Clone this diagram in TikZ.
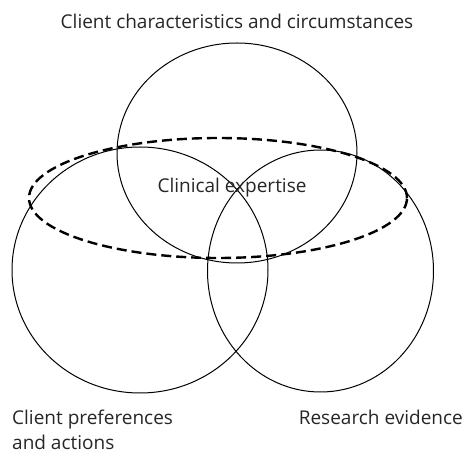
\documentclass[tikz,border=0pt]{standalone}
\usepackage{fontspec}
\setmainfont{Open Sans}
\begin{document}
\begin{tikzpicture}[x=1pt,y=1pt,
  venn/.style={draw=black,line width=1pt},
  expert/.style={draw=black,line width=2.4pt,dash pattern=on 10pt off 5pt},
  lbl/.style={inner sep=0pt,font=\fontsize{19}{25}\selectfont,text=black!85}]
\useasboundingbox (0,0) rectangle (464,453);
\draw[venn] (237,300) ellipse [x radius=120,y radius=110];
\draw[venn] (140,183) ellipse [x radius=128,y radius=123];
\draw[venn] (320.5,182) ellipse [x radius=113,y radius=121];
\draw[expert] (218,255) ellipse [x radius=189,y radius=60];
\node[lbl] (cc) at (237,432) {Client characteristics and circumstances};
\node[lbl] (ce) at (232,265) {Clinical expertise};
\node[lbl,anchor=west,align=left] (cp) at (12,23.5) {Client preferences\\and actions};
\node[lbl,anchor=east] (re) at (463,36) {Research evidence};
\end{tikzpicture}
\end{document}
